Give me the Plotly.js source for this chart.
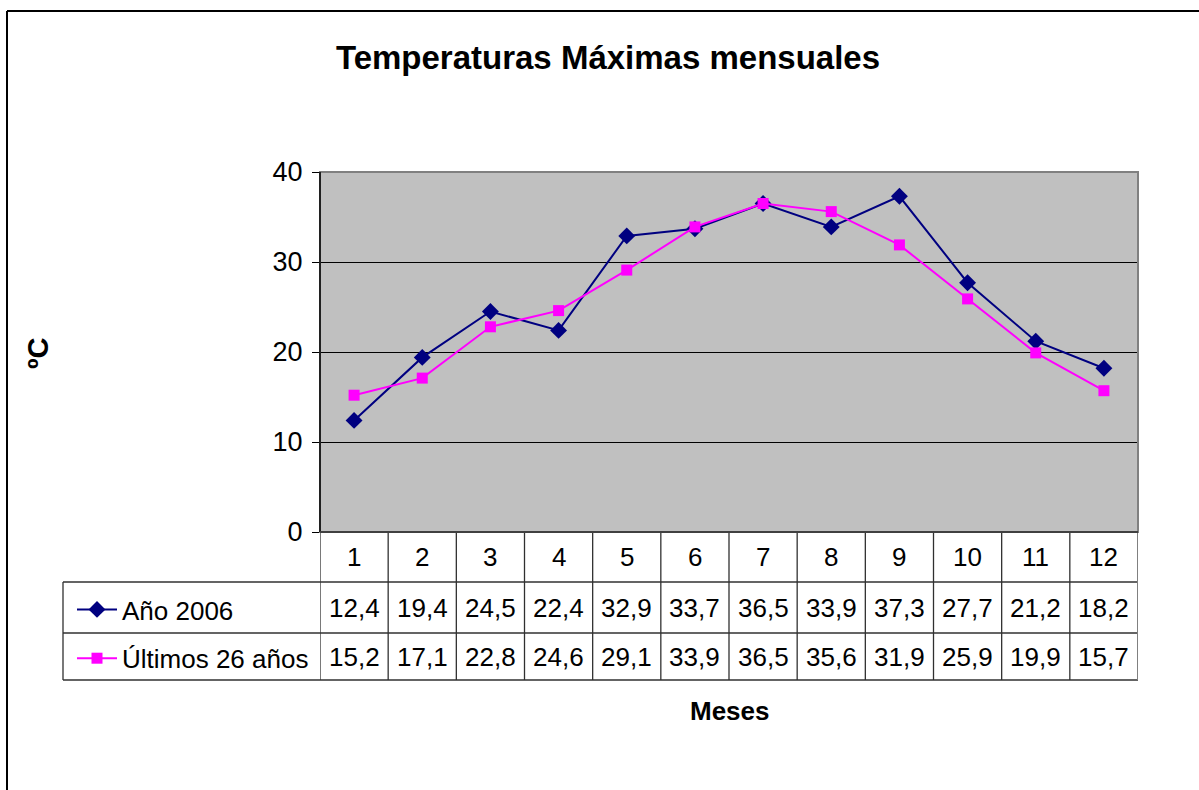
<!DOCTYPE html>
<html>
<head>
<meta charset="utf-8">
<script src="https://cdn.plot.ly/plotly-3.0.1.min.js"></script>
<style>html,body{margin:0;padding:0;background:#fff;}#chart{width:1199px;height:790px;}</style>
</head>
<body>
<div id="chart"></div>
<script>
const months = [1,2,3,4,5,6,7,8,9,10,11,12];
const monthLabels = ['1','2','3','4','5','6','7','8','9','10','11','12'];
const seriesNames = ['Año 2006', 'Últimos 26 años'];
const ano2006 = [12.4,19.4,24.5,22.4,32.9,33.7,36.5,33.9,37.3,27.7,21.2,18.2];
const ultimos26 = [15.2,17.1,22.8,24.6,29.1,33.9,36.5,35.6,31.9,25.9,19.9,15.7];
const yTicks = [0,10,20,30,40];

const W = 1199, H = 790;
const L = 320, R = 1138, T = 172, B = 532;
const pw = R - L, ph = B - T;
const px = x => (x - L) / pw;
const py = y => (B - y) / ph;

const FONT = 'Liberation Sans, Arial, sans-serif';
const fmt = v => v.toFixed(1).replace('.', ',');

const traces = [
  {x: months, y: ano2006, name: seriesNames[0], type: 'scatter', mode: 'lines+markers',
   legendgroup: 'a', line: {color: '#000080', width: 2},
   marker: {symbol: 'diamond', size: 13, color: '#000080'}},
  {x: months, y: ultimos26, name: seriesNames[1], type: 'scatter', mode: 'lines+markers',
   legendgroup: 'b', line: {color: '#FF00FF', width: 2},
   marker: {symbol: 'square', size: 11, color: '#FF00FF'}}
];

const rowY = [py(557), py(608), py(657)];
const annotations = [];
months.forEach((m, i) => {
  annotations.push({x: m, y: rowY[0], xref: 'x', yref: 'paper', text: monthLabels[i], showarrow: false,
    font: {family: FONT, size: 26, color: '#000'}, xanchor: 'center', yanchor: 'middle'});
  annotations.push({x: m, y: rowY[1], xref: 'x', yref: 'paper', text: fmt(ano2006[i]), showarrow: false,
    font: {family: FONT, size: 26, color: '#000'}, xanchor: 'center', yanchor: 'middle'});
  annotations.push({x: m, y: rowY[2], xref: 'x', yref: 'paper', text: fmt(ultimos26[i]), showarrow: false,
    font: {family: FONT, size: 26, color: '#000'}, xanchor: 'center', yanchor: 'middle'});
});
annotations.push({x: px(730), y: py(711), xref: 'paper', yref: 'paper', text: '<b>Meses</b>', showarrow: false,
  font: {family: FONT, size: 26, color: '#000'}, xanchor: 'center', yanchor: 'middle'});
annotations.push({x: px(38), y: py(353), xref: 'paper', yref: 'paper', text: '<b>ºC</b>', showarrow: false,
  textangle: -90, font: {family: FONT, size: 29, color: '#000'}, xanchor: 'center', yanchor: 'middle'});

const lineC = '#303030';
const shapes = [];
// outer chart border (left and top)
shapes.push({type: 'line', xref: 'paper', yref: 'paper', x0: px(7), x1: px(1199), y0: py(11), y1: py(11), line: {color: '#000', width: 2}});
shapes.push({type: 'line', xref: 'paper', yref: 'paper', x0: px(7), x1: px(7), y0: py(11), y1: py(790), line: {color: '#000', width: 2}});
// plot area border
shapes.push({type: 'rect', xref: 'paper', yref: 'paper', x0: 0, x1: 1, y0: 0, y1: 1, line: {color: '#808080', width: 2}, layer: 'above'});
// table horizontal lines
[582, 633, 680].forEach(yy => {
  shapes.push({type: 'line', xref: 'paper', yref: 'paper', x0: px(63), x1: 1, y0: py(yy), y1: py(yy), line: {color: lineC, width: 1.3}});
});
// left edge of legend column
shapes.push({type: 'line', xref: 'paper', yref: 'paper', x0: px(63), x1: px(63), y0: py(582), y1: py(680), line: {color: lineC, width: 1.3}});
// column separators
for (let k = 0; k <= 12; k++) {
  shapes.push({type: 'line', xref: 'x', yref: 'paper', x0: k + 0.5, x1: k + 0.5, y0: 0, y1: py(680),
    line: {color: k === 12 ? '#808080' : lineC, width: k === 12 ? 2 : 1.3}});
}
// y-axis line
shapes.push({type: 'line', xref: 'paper', yref: 'paper', x0: 0, x1: 0, y0: 0, y1: 1, line: {color: '#000', width: 1.5}, layer: 'above'});
// bottom of plot area
shapes.push({type: 'line', xref: 'paper', yref: 'paper', x0: 0, x1: 1, y0: 0, y1: 0, line: {color: '#404040', width: 2}, layer: 'above'});

const layout = {
  width: W, height: H,
  margin: {l: L, r: W - R, t: T, b: H - B, pad: 0},
  paper_bgcolor: '#ffffff',
  plot_bgcolor: '#C0C0C0',
  font: {family: FONT, size: 26, color: '#000'},
  title: {text: '<b>Temperaturas Máximas mensuales</b>', x: 608 / W, xanchor: 'center', xref: 'container',
    y: 1 - 57 / H, yanchor: 'middle', yref: 'container', font: {family: FONT, size: 33, color: '#000'}},
  showlegend: true,
  legend: {x: px(72), y: py(586), xanchor: 'left', yanchor: 'top', xref: 'paper', yref: 'paper',
    bgcolor: 'rgba(0,0,0,0)', borderwidth: 0, tracegroupgap: 12, traceorder: 'grouped',
    font: {family: FONT, size: 26, color: '#000'}, itemwidth: 40},
  xaxis: {range: [0.5, 12.5], showticklabels: false, showgrid: false, zeroline: false, showline: false, ticks: '', fixedrange: true},
  yaxis: {range: [0, 40], tickvals: yTicks, ticktext: yTicks.map(String), ticks: 'outside', ticklen: 7, tickcolor: '#000', tickwidth: 1,
    ticklabelstandoff: 4,
    showgrid: true, gridcolor: '#000', gridwidth: 1, zeroline: false, showline: false,
    tickfont: {family: FONT, size: 27, color: '#000'}, fixedrange: true},
  annotations: annotations,
  shapes: shapes
};

Plotly.newPlot('chart', traces, layout, {displayModeBar: false, staticPlot: true});
</script>
</body>
</html>
